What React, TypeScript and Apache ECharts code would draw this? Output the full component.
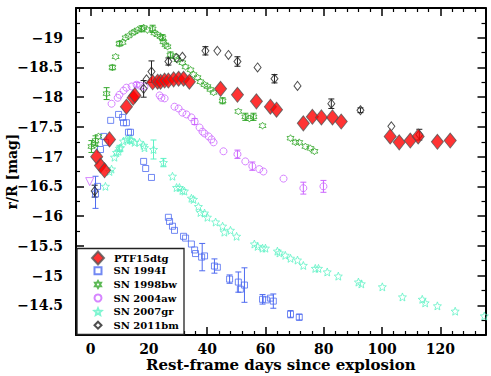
import React, { useEffect, useRef } from "react";
import * as echarts from "echarts";

// ---------- data ----------
const ptfDays = [2.1, 3.4, 4.8, 6.5, 12.3, 14.6, 15.2, 21.3, 23.0, 24.0, 25.4, 26.7, 28.5, 30.2, 31.9, 33.9, 44.6, 50.4, 56.9, 61.7, 63.8, 73.0, 76.1, 79.2, 83.0, 86.0, 102.8, 105.9, 109.7, 112.4, 119.0, 123.4];
const ptfMag = [-17.0, -16.85, -16.77, -17.29, -17.84, -17.99, -18.03, -18.25, -18.26, -18.26, -18.28, -18.28, -18.3, -18.31, -18.31, -18.26, -18.14, -18.04, -17.93, -17.84, -17.79, -17.56, -17.67, -17.66, -17.66, -17.59, -17.34, -17.24, -17.27, -17.34, -17.25, -17.27];

const sn1994IDays = [1.7, 2.4, 3.4, 4.5, 5.1, 6.9, 9.6, 11.0, 11.3, 12.3, 13.0, 13.7, 18.2, 18.9, 20.9, 26.7, 27.1, 28.1, 28.8, 31.9, 32.6, 34.6, 35.7, 36.0, 38.1, 39.1, 42.5, 43.5, 47.7, 50.7, 51.4, 52.8, 59.0, 60.3, 61.7, 62.7, 68.6, 71.6];
const sn1994IMag = [-16.37, -16.5, -17.12, -17.34, -17.24, -17.61, -17.71, -17.66, -17.57, -17.57, -17.41, -17.41, -16.92, -16.8, -16.65, -15.98, -15.91, -15.83, -15.76, -15.66, -15.63, -15.53, -15.43, -15.37, -15.31, -15.33, -15.16, -15.14, -14.94, -14.89, -14.77, -14.84, -14.6, -14.59, -14.62, -14.57, -14.35, -14.3];

const sn1998bwDays = [0.3, 1.4, 1.7, 2.7, 5.5, 7.5, 8.6, 9.9, 11.0, 12.0, 13.0, 14.4, 15.1, 16.1, 17.5, 18.2, 19.5, 21.3, 21.9, 23.0, 24.0, 24.7, 25.0, 25.7, 26.4, 27.4, 29.1, 29.8, 31.5, 32.6, 34.3, 35.3, 36.7, 37.7, 39.1, 40.1, 41.1, 42.2, 45.3, 50.7, 53.1, 54.5, 55.9, 59.0, 68.6, 70.3, 71.6, 73.7, 75.4, 76.8];
const sn1998bwMag = [-17.17, -17.2, -17.27, -17.34, -18.06, -18.5, -18.68, -18.9, -18.92, -19.0, -19.03, -19.08, -19.1, -19.13, -19.15, -19.17, -19.13, -19.15, -19.08, -19.05, -19.02, -19.0, -18.93, -18.88, -18.85, -18.71, -18.68, -18.63, -18.58, -18.51, -18.46, -18.38, -18.33, -18.26, -18.21, -18.18, -18.13, -18.08, -17.94, -17.76, -17.67, -17.64, -17.67, -17.52, -17.31, -17.24, -17.24, -17.17, -17.14, -17.09];

const sn2004awDays = [7.2, 9.3, 9.9, 11.3, 12.3, 14.1, 15.8, 17.1, 18.5, 23.7, 24.3, 25.4, 28.8, 30.2, 31.5, 32.9, 34.6, 35.7, 37.4, 38.4, 39.1, 40.5, 41.5, 42.2, 45.6, 50.4, 53.1, 55.5, 57.9, 59.3, 66.2, 73.0, 79.9];
const sn2004awMag = [-17.89, -17.99, -18.04, -18.11, -18.16, -18.18, -18.21, -18.19, -18.18, -18.03, -17.99, -17.98, -17.84, -17.81, -17.74, -17.71, -17.66, -17.59, -17.49, -17.42, -17.39, -17.34, -17.29, -17.24, -17.09, -17.04, -16.92, -16.84, -16.79, -16.75, -16.63, -16.47, -16.5];
const sn2004awLimitDay = [-0.3];
const sn2004awLimitMag = [-16.58];

const sn2007grDays = [5.1, 6.5, 7.2, 8.2, 8.9, 9.6, 9.9, 10.3, 11.3, 12.3, 13.4, 14.1, 15.1, 16.8, 18.2, 18.5, 21.6, 25.0, 28.1, 29.5, 30.5, 31.5, 32.2, 34.6, 35.3, 37.0, 37.7, 39.1, 40.1, 42.9, 45.3, 45.9, 48.0, 50.1, 56.2, 57.3, 59.0, 60.0, 64.1, 64.8, 66.8, 68.6, 71.0, 73.0, 77.1, 78.2, 81.2, 85.0, 91.9, 92.9, 100.1, 107.0, 113.8, 114.8, 119.0, 125.1, 135.1];
const sn2007grMag = [-16.5, -16.75, -16.79, -16.99, -17.07, -17.09, -17.14, -17.15, -17.26, -17.29, -17.29, -17.27, -17.24, -17.24, -17.19, -17.15, -17.12, -16.9, -16.67, -16.48, -16.48, -16.43, -16.42, -16.3, -16.28, -16.16, -16.06, -16.05, -15.98, -15.9, -15.83, -15.73, -15.76, -15.66, -15.53, -15.49, -15.46, -15.46, -15.41, -15.38, -15.34, -15.29, -15.26, -15.17, -15.12, -15.12, -15.06, -14.99, -14.89, -14.86, -14.81, -14.64, -14.6, -14.54, -14.49, -14.4, -14.32];

const sn2011bmDays = [1.4, 18.2, 19.2, 20.9, 26.7, 29.5, 31.5, 39.4, 43.5, 47.3, 50.4, 57.3, 63.1, 71.0, 82.6, 92.6, 103.2, 112.8];
const sn2011bmMag = [-16.42, -18.14, -18.3, -18.43, -18.6, -18.66, -18.68, -18.78, -18.78, -18.71, -18.6, -18.5, -18.31, -18.19, -17.89, -17.78, -17.51, -17.37];

// error bars: [day, mag, half-length]
const err1994I = [[1.7, -16.4, 0.27], [38.3, -15.31, 0.23], [42.5, -15.16, 0.12], [47.7, -14.94, 0.07], [50.7, -14.89, 0.17], [52.8, -14.84, 0.29], [59.0, -14.6, 0.08], [62.7, -14.57, 0.12], [68.6, -14.35, 0.06], [71.6, -14.3, 0.05]];
const err1998bw = [[0.3, -17.17, 0.1], [1.7, -17.27, 0.08], [5.5, -18.06, 0.1], [7.5, -18.5, 0.04], [9.9, -18.9, 0.04], [17.5, -19.15, 0.05], [21.3, -19.15, 0.06], [24.7, -19.0, 0.05], [27.4, -18.71, 0.05], [45.3, -17.94, 0.05], [53.1, -17.67, 0.06], [55.9, -17.67, 0.06]];
const err2004aw = [[15.8, -18.21, 0.04], [35.7, -17.59, 0.05], [50.4, -17.04, 0.07], [55.5, -16.84, 0.07], [73.0, -16.47, 0.1], [79.9, -16.5, 0.1]];
const err2007gr = [[9.9, -17.14, 0.05], [13.4, -17.29, 0.06], [21.6, -17.12, 0.16], [25.0, -16.9, 0.07]];
const err2011bm = [[1.4, -16.42, 0.1], [18.2, -18.14, 0.14], [20.9, -18.43, 0.18], [26.7, -18.6, 0.06], [39.4, -18.78, 0.07], [50.4, -18.6, 0.08], [63.1, -18.31, 0.07], [82.6, -17.89, 0.08], [92.6, -17.78, 0.04], [112.8, -17.37, 0.09]];

const xMajor = [0, 20, 40, 60, 80, 100, 120];
const xMinor = [-4, 4, 8, 12, 16, 24, 28, 32, 36, 44, 48, 52, 56, 64, 68, 72, 76, 84, 88, 92, 96, 104, 108, 112, 116, 124, 128, 132];

const seriesNames = ["PTF15dtg", "SN 1994I", "SN 1998bw", "SN 2004aw", "SN 2007gr", "SN 2011bm"];

// ---------- styling ----------
const FONT = "DejaVu Serif";
const C1994 = "#4f6bf0";
const C1998 = "#35a82c";
const C2004 = "#cc66ff";
const C2007 = "#5ff2c6";
const C2011 = "#222222";
const CLEAR = "rgba(255,255,255,0)";

function starSymbol(n: number, inner: number): string {
  const pts: string[] = [];
  for (let i = 0; i < 2 * n; i++) {
    const r = i % 2 === 0 ? 10 : 10 * inner;
    const a = -Math.PI / 2 + (i * Math.PI) / n;
    pts.push((r * Math.cos(a)).toFixed(3) + "," + (r * Math.sin(a)).toFixed(3));
  }
  return "path://M" + pts.join("L") + "Z";
}
const HEX = starSymbol(6, 0.58);
const STAR = starSymbol(5, 0.45);

const zip = (a: number[], b: number[]) => a.map((v, i) => [v, b[i]]);

function errSeries(data: number[][], color: string) {
  return {
    type: "custom",
    xAxisIndex: 0,
    yAxisIndex: 0,
    silent: true,
    z: 1,
    data,
    encode: { x: 0, y: 1 },
    renderItem: (_p: any, api: any) => {
      const x = api.value(0);
      const y = api.value(1);
      const e = api.value(2);
      const a = api.coord([x, y - e]);
      const b = api.coord([x, y + e]);
      const cap = 3;
      const st = { stroke: color, lineWidth: 1 };
      return {
        type: "group",
        children: [
          { type: "line", shape: { x1: a[0], y1: a[1], x2: b[0], y2: b[1] }, style: st },
          { type: "line", shape: { x1: a[0] - cap, y1: a[1], x2: a[0] + cap, y2: a[1] }, style: st },
          { type: "line", shape: { x1: b[0] - cap, y1: b[1], x2: b[0] + cap, y2: b[1] }, style: st },
        ],
      };
    },
  };
}

export default function App() {
  const ref = useRef<HTMLDivElement>(null);
  useEffect(() => {
    if (!ref.current) return;
    const chart = echarts.init(ref.current, null, { renderer: "svg" });
    const axisLine = { show: true, onZero: false, lineStyle: { color: "#000", width: 2 } };
    const noLine = { show: false, onZero: false };
    const baseX = { type: "value", min: -5, max: 135.5, splitLine: { show: false } };
    const baseY = { type: "value", min: -19.5, max: -14, interval: 0.5, inverse: true, splitLine: { show: false } };
    const labelFont = { fontFamily: FONT, fontWeight: "bold", fontSize: 14, color: "#000" };
    const legendText = { fontFamily: FONT, fontWeight: "bold", fontSize: 10, color: "#000", lineHeight: 13.6 };

    chart.setOption({
      animation: false,
      backgroundColor: "#fff",
      grid: { left: 76, right: 5.5, top: 8, bottom: 41, containLabel: false, outerBoundsMode: "none" },
      xAxis: [
        {
          ...baseX,
          position: "bottom",
          axisLine,
          axisTick: { show: true, inside: true, length: 8, customValues: xMajor, lineStyle: { color: "#000", width: 1.5 } },
          axisLabel: { ...labelFont, margin: 7, customValues: xMajor },
          name: "Rest-frame days since explosion",
          nameLocation: "middle",
          nameGap: 22.5,
          nameMoveOverlap: false,
          nameTextStyle: { fontFamily: FONT, fontWeight: "bold", fontSize: 15, color: "#000" },
        },
        {
          ...baseX,
          position: "bottom",
          axisLine: noLine,
          axisTick: { show: true, inside: true, length: 4, customValues: xMinor, lineStyle: { color: "#000", width: 1.2 } },
          axisLabel: { show: false },
        },
        {
          ...baseX,
          position: "top",
          axisLine,
          axisTick: { show: true, inside: true, length: 8, customValues: xMajor, lineStyle: { color: "#000", width: 1.5 } },
          axisLabel: { show: false },
        },
        {
          ...baseX,
          position: "top",
          axisLine: noLine,
          axisTick: { show: true, inside: true, length: 4, customValues: xMinor, lineStyle: { color: "#000", width: 1.2 } },
          axisLabel: { show: false },
        },
      ],
      yAxis: [
        {
          ...baseY,
          position: "left",
          axisLine,
          axisTick: { show: true, inside: true, length: 8, lineStyle: { color: "#000", width: 1.5 } },
          minorTick: { show: true, splitNumber: 2, length: 4, lineStyle: { color: "#000", width: 1.2 } },
          axisLabel: {
            ...labelFont,
            margin: 13,
            formatter: (v: number) => (v <= -19.5 || v >= -14 ? "" : String(v).replace("-", "\u2212")),
          },
          name: "r/R [mag]",
          nameLocation: "middle",
          nameGap: 57,
          nameMoveOverlap: false,
          nameTextStyle: { fontFamily: FONT, fontWeight: "bold", fontSize: 14, color: "#000" },
        },
        {
          ...baseY,
          position: "right",
          axisLine,
          axisTick: { show: true, inside: true, length: 8, lineStyle: { color: "#000", width: 1.5 } },
          minorTick: { show: true, splitNumber: 2, length: 4, lineStyle: { color: "#000", width: 1.2 } },
          axisLabel: { show: false },
        },
      ],
      legend: [
        {
          data: [seriesNames[0]],
          orient: "vertical",
          left: 91,
          top: 250.5,
          padding: 0,
          itemWidth: 12,
          itemHeight: 13,
          itemGap: 0,
          z: 5,
          textStyle: { ...legendText, padding: [0, 0, 0, 5] },
        },
        {
          data: seriesNames.slice(1),
          orient: "vertical",
          left: 93.5,
          top: 264,
          padding: 0,
          itemWidth: 7,
          itemHeight: 7,
          itemGap: 0,
          z: 5,
          textStyle: { ...legendText, padding: [0, 0, 0, 7] },
        },
      ],
      graphic: [
        {
          type: "rect",
          z: 4,
          shape: { x: 77, y: 248.5, width: 107, height: 86 },
          style: { fill: "#fff", stroke: "#222", lineWidth: 1.3 },
        },
      ],
      series: [
        errSeries(err1994I, C1994),
        errSeries(err1998bw, C1998),
        errSeries(err2004aw, C2004),
        errSeries(err2007gr, C2007),
        errSeries(err2011bm, C2011),
        {
          name: "SN 1994I",
          type: "scatter",
          data: zip(sn1994IDays, sn1994IMag),
          symbol: "rect",
          symbolSize: 6,
          itemStyle: { color: CLEAR, borderColor: C1994, borderWidth: 1 },
        },
        {
          name: "SN 1998bw",
          type: "scatter",
          data: zip(sn1998bwDays, sn1998bwMag),
          symbol: HEX,
          symbolSize: 7,
          itemStyle: { color: CLEAR, borderColor: C1998, borderWidth: 1 },
        },
        {
          name: "SN 2004aw",
          type: "scatter",
          data: [
            ...zip(sn2004awDays, sn2004awMag),
            ...zip(sn2004awLimitDay, sn2004awLimitMag).map((d) => ({ value: d, symbol: "triangle", symbolRotate: 180, symbolSize: 8 })),
          ],
          symbol: "circle",
          symbolSize: 7,
          itemStyle: { color: CLEAR, borderColor: C2004, borderWidth: 1 },
        },
        {
          name: "SN 2007gr",
          type: "scatter",
          data: zip(sn2007grDays, sn2007grMag),
          symbol: STAR,
          symbolSize: 8,
          itemStyle: { color: CLEAR, borderColor: C2007, borderWidth: 1 },
        },
        {
          name: "SN 2011bm",
          type: "scatter",
          data: zip(sn2011bmDays, sn2011bmMag),
          symbol: "diamond",
          symbolSize: [7, 9],
          itemStyle: { color: CLEAR, borderColor: C2011, borderWidth: 1 },
        },
        {
          name: "PTF15dtg",
          type: "scatter",
          data: zip(ptfDays, ptfMag),
          symbol: "diamond",
          symbolSize: [12, 15],
          z: 3,
          itemStyle: { color: "#ff0000", borderColor: "#555", borderWidth: 1 },
        },
      ],
    });
    return () => chart.dispose();
  }, []);
  return <div ref={ref} style={{ width: 491, height: 376, position: "absolute", left: 0, top: 0 }} />;
}
